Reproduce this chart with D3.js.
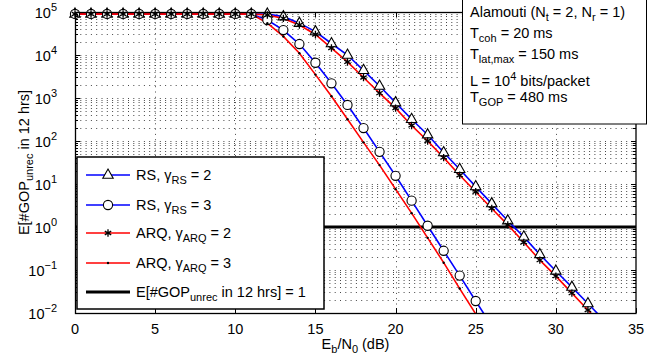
<!DOCTYPE html>
<html>
<head>
<meta charset="utf-8">
<script src="https://cdn.jsdelivr.net/npm/d3@7"></script>
<style>
  body { margin: 0; background: #fff; }
  svg { display: block; font-family: "Liberation Sans", Arial, Helvetica, sans-serif; }
</style>
</head>
<body>
<div id="chart"></div>
<script>
// Eb/N0 (dB) sample points
const snr = d3.range(0, 34);

// E[#GOP_unrec in 12 hrs] (9e4 = all GOPs lost)
const rsGamma2 = [9e4, 9e4, 9e4, 9e4, 9e4, 9e4, 9e4, 9e4, 9e4, 9e4, 9e4, 9e4, 9e4,
    7.8e4, 5.5e4, 3.5e4, 1.85e4, 1.0e4, 4.4e3, 1.9e3, 7.8e2, 3.2e2, 1.4e2, 54, 22,
    8.7, 3.5, 1.4, 0.59, 0.23, 0.095, 0.04, 0.0166, 0.0068];
const rsGamma3 = [9e4, 9e4, 9e4, 9e4, 9e4, 9e4, 9e4, 9e4, 9e4, 9e4, 9e4, 9e4,
    6.5e4, 3.8e4, 1.8e4, 6.6e3, 2.2e3, 6.9e2, 2.0e2, 56, 15.5, 4.1, 1.07, 0.28,
    0.074, 0.019, 0.005];
const arqGamma2 = [9e4, 9e4, 9e4, 9e4, 9e4, 9e4, 9e4, 9e4, 9e4, 9e4, 9e4, 9e4, 8.5e4,
    7.1e4, 5.0e4, 3.0e4, 1.45e4, 6.9e3, 3.0e3, 1.3e3, 5.8e2, 2.3e2, 1.0e2, 41, 16,
    6.6, 2.7, 1.12, 0.44, 0.17, 0.072, 0.029, 0.0117, 0.0048];
const arqGamma3 = [9e4, 9e4, 9e4, 9e4, 9e4, 9e4, 9e4, 9e4, 9e4, 9e4, 9e4, 9e4,
    5.5e4, 2.7e4, 1.1e4, 3.5e3, 1.1e3, 3.2e2, 93, 27.5, 7.6, 2.1, 0.56, 0.148,
    0.037, 0.0095];
const threshold = 1;

const xTicks = [0, 5, 10, 15, 20, 25, 30, 35];
const yExponents = [-2, -1, 0, 1, 2, 3, 4, 5];

const series = [
    { name: "RS", sub: "RS", gamma: 2, values: rsGamma2, color: "#0000ff", marker: "triangle" },
    { name: "RS", sub: "RS", gamma: 3, values: rsGamma3, color: "#0000ff", marker: "circle" },
    { name: "ARQ", sub: "ARQ", gamma: 2, values: arqGamma2, color: "#ff0000", marker: "asterisk" },
    { name: "ARQ", sub: "ARQ", gamma: 3, values: arqGamma3, color: "#ff0000", marker: "dot" }
];

const FS = 14.5, SFS = 11;

const W = 670, H = 362;
const margin = { top: 12, right: 34, bottom: 49, left: 75 };
const width = W - margin.left - margin.right,
    height = H - margin.top - margin.bottom;

const svg = d3.select("#chart").append("svg")
    .attr("width", W)
    .attr("height", H);

const g = svg.append("g")
    .attr("transform", `translate(${margin.left},${margin.top})`);

const x = d3.scaleLinear().domain([0, 35]).range([0, width]);
const y = d3.scaleLog().domain([1e-2, 1e5]).range([height, 0]);

// minor log values for grid / ticks
const minorVals = [];
yExponents.slice(0, -1).forEach(e => {
    for (let k = 2; k <= 9; k++) minorVals.push(k * Math.pow(10, e));
});

// Grid (dotted, MATLAB style)
const grid = g.append("g").attr("stroke", "#333").attr("stroke-width", 0.9)
    .attr("stroke-dasharray", "1,4.3");
grid.selectAll(".hg")
    .data(minorVals.concat(yExponents.map(e => Math.pow(10, e))))
    .enter().append("line")
    .attr("x1", 0).attr("x2", width)
    .attr("y1", d => Math.round(y(d)) + 0.5).attr("y2", d => Math.round(y(d)) + 0.5);
grid.selectAll(".vg")
    .data(xTicks.slice(1, -1))
    .enter().append("line")
    .attr("y1", 0).attr("y2", height)
    .attr("x1", d => Math.round(x(d)) + 0.5).attr("x2", d => Math.round(x(d)) + 0.5);

// Clip for curves
svg.append("defs").append("clipPath").attr("id", "plotClip")
    .append("rect").attr("width", width).attr("height", height);

// threshold line
g.append("line")
    .attr("x1", x(0)).attr("x2", x(35))
    .attr("y1", y(threshold)).attr("y2", y(threshold))
    .attr("stroke", "#000").attr("stroke-width", 3);

const line = d3.line()
    .x(d => x(d[0]))
    .y(d => y(d[1]));

const curves = g.append("g").attr("clip-path", "url(#plotClip)");
series.forEach(s => {
    const pts = s.values.map((v, i) => [snr[i], v]);
    curves.append("path")
        .datum(pts)
        .attr("fill", "none")
        .attr("stroke", s.color)
        .attr("stroke-width", 1.6)
        .attr("d", line);
});

function drawMarker(sel, type) {
    if (type === "triangle") {
        sel.append("path")
            .attr("d", "M0,-6 L5.2,3.2 L-5.2,3.2 Z")
            .attr("fill", "#fff").attr("stroke", "#000").attr("stroke-width", 1.1);
    } else if (type === "circle") {
        sel.append("circle").attr("r", 4.6)
            .attr("fill", "#fff").attr("stroke", "#000").attr("stroke-width", 1.1);
    } else if (type === "asterisk") {
        sel.append("path")
            .attr("d", d3.symbol(d3.symbolAsterisk, 38)())
            .attr("fill", "none").attr("stroke", "#000").attr("stroke-width", 1.3);
    } else if (type === "dot") {
        sel.append("circle").attr("r", 1.2).attr("fill", "#000");
    }
}

const markers = g.append("g");
series.forEach(s => {
    s.values.forEach((v, i) => {
        if (v < 1e-2) return;
        const m = markers.append("g")
            .attr("transform", `translate(${x(snr[i])},${y(v)})`);
        drawMarker(m, s.marker);
    });
});

// Axes box and ticks
const axes = g.append("g").attr("stroke", "#000").attr("stroke-width", 1);
axes.append("rect").attr("x", 0.5).attr("y", 0.5)
    .attr("width", width - 0.5).attr("height", height)
    .attr("fill", "none").attr("stroke-width", 1.3);
xTicks.forEach(t => {
    const px = Math.round(x(t)) + 0.5;
    axes.append("line").attr("x1", px).attr("x2", px).attr("y1", height).attr("y2", height - 5);
    axes.append("line").attr("x1", px).attr("x2", px).attr("y1", 0).attr("y2", 5);
});
yExponents.forEach(e => {
    const py = Math.round(y(Math.pow(10, e))) + 0.5;
    axes.append("line").attr("x1", 0).attr("x2", 5).attr("y1", py).attr("y2", py);
    axes.append("line").attr("x1", width).attr("x2", width - 5).attr("y1", py).attr("y2", py);
});
minorVals.forEach(v => {
    const py = Math.round(y(v)) + 0.5;
    axes.append("line").attr("x1", 0).attr("x2", 3).attr("y1", py).attr("y2", py);
    axes.append("line").attr("x1", width).attr("x2", width - 3).attr("y1", py).attr("y2", py);
});

// tick labels
g.append("g").selectAll("text")
    .data(xTicks).enter().append("text")
    .attr("x", d => x(d)).attr("y", height + 21)
    .attr("text-anchor", "middle").attr("font-size", FS)
    .text(d => d);

const yl = g.append("g").selectAll("text")
    .data(yExponents).enter().append("text")
    .attr("x", -18).attr("y", d => y(Math.pow(10, d)) + 6)
    .attr("text-anchor", "end").attr("font-size", FS);
yl.append("tspan").text("10");
yl.append("tspan").attr("dy", -7).attr("font-size", SFS).text(d => d < 0 ? "\u2212" + (-d) : d);

// axis titles
const xt = svg.append("text")
    .attr("x", margin.left + x(17.5)).attr("y", 349)
    .attr("text-anchor", "middle").attr("font-size", FS);
xt.append("tspan").text("E");
xt.append("tspan").attr("dy", 4).attr("font-size", SFS).text("b");
xt.append("tspan").attr("dy", -4).text("/N");
xt.append("tspan").attr("dy", 4).attr("font-size", SFS).text("0");
xt.append("tspan").attr("dy", -4).text(" (dB)");

const yt = svg.append("text")
    .attr("transform", `translate(29,${margin.top + height / 2}) rotate(-90)`)
    .attr("text-anchor", "middle").attr("font-size", FS);
yt.append("tspan").text("E[#GOP");
yt.append("tspan").attr("dy", 4).attr("font-size", SFS).text("unrec");
yt.append("tspan").attr("dy", -4).text(" in 12 hrs]");

// Legend
const leg = svg.append("g").attr("transform", "translate(77,157)");
leg.append("rect").attr("width", 247).attr("height", 152)
    .attr("fill", "#fff").attr("stroke", "#000").attr("stroke-width", 1.5);
const rowY = [18, 48, 76, 106, 135];
series.forEach((s, i) => {
    const r = leg.append("g").attr("transform", `translate(0,${rowY[i]})`);
    r.append("line").attr("x1", 9).attr("x2", 53).attr("stroke", s.color).attr("stroke-width", 1.6);
    drawMarker(r.append("g").attr("transform", "translate(31,0)"), s.marker);
    const t = r.append("text").attr("x", 59).attr("y", 5).attr("font-size", FS);
    t.append("tspan").text(s.name + ", \u03b3");
    t.append("tspan").attr("dy", 4).attr("font-size", SFS).text(s.sub);
    t.append("tspan").attr("dy", -4).text(" = " + s.gamma);
});
const r5 = leg.append("g").attr("transform", `translate(0,${rowY[4]})`);
r5.append("line").attr("x1", 9).attr("x2", 53).attr("stroke", "#000").attr("stroke-width", 3);
const t5 = r5.append("text").attr("x", 59).attr("y", 5).attr("font-size", FS);
t5.append("tspan").text("E[#GOP");
t5.append("tspan").attr("dy", 4).attr("font-size", SFS).text("unrec");
t5.append("tspan").attr("dy", -4).text(" in 12 hrs] = 1");

// Annotation box
const ann = svg.append("g").attr("transform", "translate(462,0)");
ann.append("rect").attr("x", 0.5).attr("y", -2).attr("width", 184).attr("height", 126)
    .attr("fill", "#fff").attr("stroke", "#000").attr("stroke-width", 1);
function annLine(yPos, parts) {
    const t = ann.append("text").attr("x", 8).attr("y", yPos).attr("font-size", FS);
    parts.forEach(p => {
        const sp = t.append("tspan").text(p[0]);
        if (p[1] === "sub") sp.attr("dy", 4).attr("font-size", SFS);
        if (p[1] === "sup") sp.attr("dy", -6).attr("font-size", SFS);
        if (p[1] === "back") sp.attr("dy", -4);
        if (p[1] === "up") sp.attr("dy", 6);
    });
}
annLine(17, [["Alamouti (N"], ["t", "sub"], [" = 2, N", "back"], ["r", "sub"], [" = 1)", "back"]]);
annLine(38, [["T"], ["coh", "sub"], [" = 20 ms", "back"]]);
annLine(59, [["T"], ["lat,max", "sub"], [" = 150 ms", "back"]]);
annLine(86, [["L = 10"], ["4", "sup"], [" bits/packet", "up"]]);
annLine(102, [["T"], ["GOP", "sub"], [" = 480 ms", "back"]]);
</script>
</body>
</html>
